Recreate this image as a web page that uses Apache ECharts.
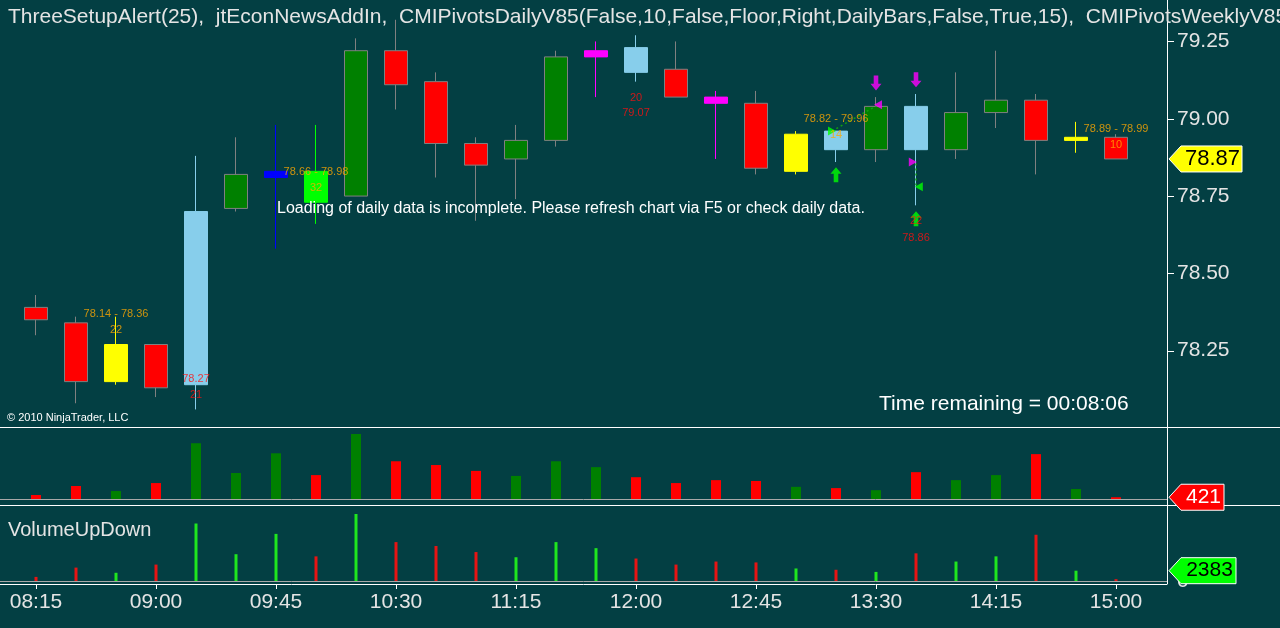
<!DOCTYPE html>
<html>
<head>
<meta charset="utf-8">
<script src="https://cdn.jsdelivr.net/npm/echarts@6/dist/echarts.min.js"></script>
<style>
html, body { margin: 0; padding: 0; background: #033f43; }
#chart { width: 1280px; height: 628px; }
</style>
</head>
<body>
<div id="chart"></div>
<script>
// 15 minute bars, 08:15 - 15:00
const times = ['08:15', '08:30', '08:45', '09:00', '09:15', '09:30', '09:45', '10:00', '10:15', '10:30',
    '10:45', '11:00', '11:15', '11:30', '11:45', '12:00', '12:15', '12:30', '12:45', '13:00',
    '13:15', '13:30', '13:45', '14:00', '14:15', '14:30', '14:45', '15:00'];
const opens = [78.39, 78.34, 78.15, 78.27, 78.14, 78.71, 78.81, 78.83, 78.75, 79.22,
    79.12, 78.92, 78.87, 78.93, 79.20, 79.23, 79.16, 79.07, 79.05, 78.83,
    78.96, 78.90, 79.04, 78.90, 79.02, 79.06, 78.93, 78.94];
const closes = [78.35, 78.15, 78.27, 78.13, 78.70, 78.82, 78.83, 78.73, 79.22, 79.11,
    78.92, 78.85, 78.93, 79.20, 79.22, 79.15, 79.07, 79.05, 78.84, 78.95,
    78.90, 79.04, 78.90, 79.02, 79.06, 78.93, 78.94, 78.87];
const lows = [78.30, 78.08, 78.14, 78.10, 78.06, 78.70, 78.58, 78.66, 78.75, 79.03,
    78.81, 78.67, 78.74, 78.91, 79.07, 79.12, 79.07, 78.87, 78.82, 78.82,
    78.86, 78.86, 78.72, 78.87, 78.97, 78.82, 78.89, 78.87];
const highs = [78.43, 78.36, 78.36, 78.27, 78.88, 78.94, 78.98, 78.98, 79.26, 79.32,
    79.15, 78.94, 78.98, 79.22, 79.25, 79.27, 79.25, 79.09, 79.09, 78.96,
    78.96, 79.07, 79.08, 79.15, 79.22, 79.08, 78.99, 78.95];
// bars repainted by the setup indicator (null = normal up/down colour)
const paintBars = [null, null, 'yellow', null, 'skyblue', null, 'blue', 'lime', null, null,
    null, null, null, null, 'magenta', 'skyblue', null, 'magenta', null, 'yellow',
    'skyblue', null, 'skyblue', null, null, null, 'yellow', null];
const volumes = [950, 3100, 1900, 3800, 13300, 6200, 10900, 5700, 15500, 9000,
    8100, 6700, 5500, 9000, 7600, 5200, 3800, 4500, 4300, 2900,
    2600, 2100, 6400, 4500, 5700, 10700, 2383, 421];

const priceTicks = [78.25, 78.5, 78.75, 79.0, 79.25];
const timeLabels = ['08:15', '09:00', '09:45', '10:30', '11:15', '12:00', '12:45', '13:30', '14:15', '15:00'];

// indicator texts drawn on the price panel
const noteBars = [2, 2, 4, 4, 7, 7, 15, 15, 20, 20, 22, 22, 27, 27];
const notePrices = [78.368, 78.316, 78.158, 78.106, 78.829, 78.777, 79.068, 79.019, 79.0, 78.948, 78.671, 78.616, 78.968, 78.916];
const noteTexts = ['78.14 - 78.36', '22', '78.27', '21', '78.66 - 78.98', '32', '20', '79.07',
    '78.82 - 79.96', '14', '22', '78.86', '78.89 - 78.99', '10'];
const noteKinds = ['range', 'range', 'level', 'level', 'range', 'range', 'level', 'level',
    'range', 'range', 'level', 'level', 'range', 'range'];

const upArrows = [[20, 78.819], [22, 78.677]];
const downArrows = [[21, 79.116], [22, 79.126]];
const greenRightTri = [[19.9, 78.96]];
const magentaLeftTri = [[21.05, 79.045]];
const magentaRightTri = [[21.92, 78.86]];
const greenLeftTri = [[22.07, 78.78]];
const dotLinks = [[[19.9, 78.96], [21.05, 79.045]], [[22, 78.855], [22, 78.785]]];

const BG = '#033f43';
const FONT = '"Liberation Sans", Arial, sans-serif';
const TXT = '#e4e4e4';
const UP = '#008000', DOWN = '#ff0000';
const paintColors = {yellow: '#ffff00', skyblue: '#87ceeb', blue: '#0000ff', lime: '#00ff00', magenta: '#ff00ff'};
const noteColors = {range: '#ffa800', level: '#ff1010'};

const xMin = -0.9, xMax = 28.275;
const AXIS_X = 1167;

const chart = echarts.init(document.getElementById('chart'), null, {renderer: 'canvas'});

const candleData = times.map((t, i) => {
    const item = {value: [i, opens[i], closes[i], lows[i], highs[i]]};
    if (paintBars[i]) {
        const c = paintColors[paintBars[i]];
        item.itemStyle = {color: c, color0: c, borderColor: c, borderColor0: c};
    }
    return item;
});

const volData = volumes.map((v, i) => ({
    value: [i, v],
    itemStyle: {color: closes[i] >= opens[i] ? UP : DOWN},
}));
const udData = volumes.map((v, i) => ({
    value: [i, v],
    itemStyle: {color: closes[i] >= opens[i] ? '#1fe61f' : '#e81414'},
}));

const noteData = noteTexts.map((t, i) => ({
    value: [noteBars[i], notePrices[i]],
    label: {formatter: t, color: noteColors[noteKinds[i]]},
}));

const timeTickValues = timeLabels.map((l) => times.indexOf(l));

function xAxisBase(gridIndex) {
    return {
        type: 'value', gridIndex: gridIndex, min: xMin, max: xMax, show: false,
        axisLine: {onZero: false}, splitLine: {show: false},
    };
}

function triSeries(data, color, rotate) {
    return {
        type: 'scatter', xAxisIndex: 0, yAxisIndex: 0, data: data,
        symbol: 'triangle', symbolSize: [9, 8], symbolRotate: rotate,
        itemStyle: {color: color}, silent: true, z: 6,
    };
}

chart.setOption({
    backgroundColor: BG,
    animation: false,
    textStyle: {fontFamily: FONT},
    grid: [
        {left: 0, top: 0, width: AXIS_X, height: 428},
        {left: 0, top: 428, width: AXIS_X, height: 71},
        {left: 0, top: 506, width: AXIS_X, height: 78},
    ],
    xAxis: [
        xAxisBase(0),
        Object.assign(xAxisBase(1), {
            show: true,
            axisLine: {onZero: false, lineStyle: {color: '#a8a8a8', width: 1}},
            axisTick: {show: false},
            axisLabel: {show: false},
        }),
        Object.assign(xAxisBase(2), {
            show: true,
            axisLine: {onZero: false, lineStyle: {color: '#ffffff', width: 1}},
            axisTick: {show: true, customValues: timeTickValues, length: 5, lineStyle: {color: '#ffffff'}},
            axisLabel: {
                show: true, customValues: timeTickValues, margin: 8,
                formatter: (v) => times[Math.round(v)],
                color: TXT, fontSize: 21, fontFamily: FONT,
            },
        }),
    ],
    yAxis: [
        {
            gridIndex: 0, type: 'value', position: 'right', min: 78.0, max: 79.384,
            axisLine: {show: false, onZero: false},
            axisTick: {show: false},
            axisLabel: {
                customValues: priceTicks, margin: 10, color: TXT, fontSize: 21, fontFamily: FONT,
                formatter: (v) => v.toFixed(2),
            },
            splitLine: {show: false},
        },
        {
            gridIndex: 1, type: 'value', position: 'right', min: 0, max: 16930,
            axisLine: {show: false, onZero: false}, axisTick: {show: false}, axisLabel: {show: false}, splitLine: {show: false},
        },
        {
            gridIndex: 2, type: 'value', position: 'right', min: -694, max: 17350,
            axisLine: {show: false, onZero: false}, axisTick: {show: false}, splitLine: {show: false},
            axisLabel: {
                customValues: [0], margin: 10, color: TXT, fontSize: 21, fontFamily: FONT,
            },
        },
    ],
    series: [
        {
            type: 'candlestick', xAxisIndex: 0, yAxisIndex: 0,
            encode: {x: 0, y: [1, 2, 3, 4]},
            barWidth: 24,
            data: candleData,
            itemStyle: {
                color: UP, color0: DOWN,
                borderColor: '#808080', borderColor0: '#808080', borderWidth: 1,
            },
            emphasis: {disabled: true},
            silent: true,
        },
        {
            type: 'line', xAxisIndex: 0, yAxisIndex: 0, data: dotLinks[0],
            symbol: 'none', silent: true, z: 5,
            lineStyle: {color: '#10a010', width: 1.5, type: [2, 3]},
        },
        {
            type: 'line', xAxisIndex: 0, yAxisIndex: 0, data: dotLinks[1],
            symbol: 'none', silent: true, z: 5,
            lineStyle: {color: '#10a010', width: 1.5, type: [2, 3]},
        },
        triSeries(greenRightTri, '#00ff00', -90),
        triSeries(magentaLeftTri, '#ff00ff', 90),
        triSeries(magentaRightTri, '#ff00ff', -90),
        triSeries(greenLeftTri, '#00ff00', 90),
        {
            type: 'scatter', xAxisIndex: 0, yAxisIndex: 0, data: upArrows,
            symbol: 'path://M6,0 L12,7 L8.5,7 L8.5,16 L3.5,16 L3.5,7 L0,7 Z',
            symbolSize: [11, 15], itemStyle: {color: '#00ff00'}, silent: true, z: 6,
        },
        {
            type: 'scatter', xAxisIndex: 0, yAxisIndex: 0, data: downArrows,
            symbol: 'path://M3.5,0 L8.5,0 L8.5,9 L12,9 L6,16 L0,9 L3.5,9 Z',
            symbolSize: [11, 15], itemStyle: {color: '#ff00ff'}, silent: true, z: 6,
        },
        {
            type: 'scatter', xAxisIndex: 0, yAxisIndex: 0, data: noteData,
            symbol: 'rect', symbolSize: 1, itemStyle: {color: 'rgba(0,0,0,0)'}, silent: true, z: 7,
            label: {
                show: true, position: 'inside', fontSize: 11, fontFamily: FONT,
                textBorderWidth: 0, textBorderColor: 'transparent',
            },
            labelLayout: {hideOverlap: false},
        },
        {
            type: 'bar', xAxisIndex: 1, yAxisIndex: 1, data: volData,
            barWidth: 10, silent: true,
        },
        {
            type: 'bar', xAxisIndex: 2, yAxisIndex: 2, data: udData,
            barWidth: 3, silent: true,
            markLine: {
                silent: true, symbol: ['none', 'none'], label: {show: false},
                lineStyle: {color: '#a8a8a8', type: 'solid', width: 1},
                data: [{yAxis: 0}],
            },
        },
    ],
});

// panel frames, price ticks, value tags and texts
const lastClose = closes[closes.length - 1];
const yPrice = chart.convertToPixel({yAxisIndex: 0}, lastClose);
const yVol = chart.convertToPixel({yAxisIndex: 1}, volumes[volumes.length - 1]);
const yUd = chart.convertToPixel({yAxisIndex: 2}, volumes[volumes.length - 2]);

const tickMarks = priceTicks.map((p) => {
    const y = Math.round(chart.convertToPixel({yAxisIndex: 0}, p)) + 0.5;
    return {type: 'line', z: 30, shape: {x1: AXIS_X, y1: y, x2: AXIS_X + 7, y2: y}, style: {stroke: '#ffffff', lineWidth: 1}};
});

function tag(y, right, fill, textColor, text, size) {
    const x0 = AXIS_X + 2;
    return [
        {
            type: 'polygon', z: 50,
            shape: {points: [[x0, y], [x0 + 12, y - 13], [right, y - 13], [right, y + 13], [x0 + 12, y + 13]]},
            style: {fill: fill, stroke: '#ffffff', lineWidth: 1},
        },
        {
            type: 'text', z: 51, x: (x0 + 12 + right) / 2 + 1, y: y,
            style: {text: text, fill: textColor, font: size + 'px ' + FONT, textAlign: 'center', textVerticalAlign: 'middle'},
        },
    ];
}

function label(x, y, text, size, color) {
    return {
        type: 'text', z: 40, x: x, y: y,
        style: {text: text, fill: color || TXT, font: size + 'px ' + FONT, textAlign: 'left', textVerticalAlign: 'middle'},
    };
}

chart.setOption({
    graphic: [
        {type: 'line', z: 30, shape: {x1: 0, y1: 427.5, x2: 1280, y2: 427.5}, style: {stroke: '#ffffff', lineWidth: 1}},
        {type: 'line', z: 30, shape: {x1: 0, y1: 505.5, x2: 1280, y2: 505.5}, style: {stroke: '#ffffff', lineWidth: 1}},
        {type: 'line', z: 30, shape: {x1: AXIS_X + 0.5, y1: 0, x2: AXIS_X + 0.5, y2: 584}, style: {stroke: '#ffffff', lineWidth: 1}},
        label(8, 17, 'ThreeSetupAlert(25),  jtEconNewsAddIn,  CMIPivotsDailyV85(False,10,False,Floor,Right,DailyBars,False,True,15),  CMIPivotsWeeklyV85(False', 21),
        label(277, 209, 'Loading of daily data is incomplete. Please refresh chart via F5 or check daily data.', 16, '#ffffff'),
        label(879, 404, 'Time remaining = 00:08:06', 21, '#ffffff'),
        label(7, 418, '\u00a9 2010 NinjaTrader, LLC', 11, '#ffffff'),
        label(8, 530, 'VolumeUpDown', 20),
    ]
        .concat(tickMarks)
        .concat(tag(yPrice, 1242, '#ffff00', '#000000', lastClose.toFixed(2), 22))
        .concat(tag(yVol, 1224, '#ff0000', '#ffffff', String(volumes[volumes.length - 1]), 21))
        .concat(tag(yUd, 1236, '#00ff00', '#000000', String(volumes[volumes.length - 2]), 21)),
});
</script>
</body>
</html>
